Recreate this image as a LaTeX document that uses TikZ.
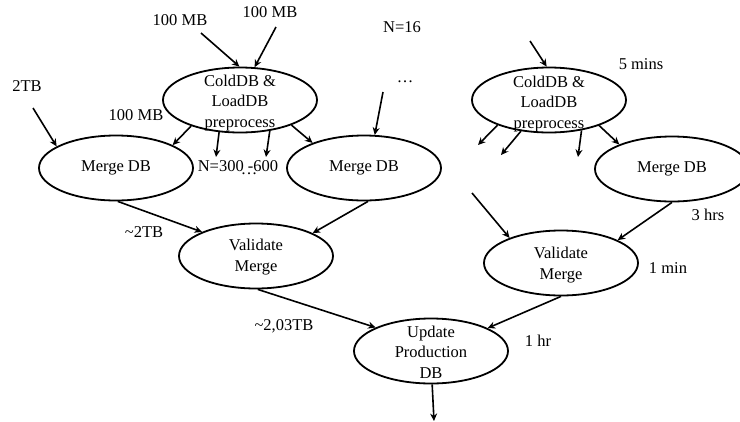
\documentclass[tikz,border=0pt]{standalone}
\usepackage{fontspec}
\setmainfont{Liberation Serif}
\usetikzlibrary{shapes.geometric,arrows.meta}
\begin{document}
\begin{tikzpicture}[x=1pt,y=-1pt,
  proc/.style={ellipse,draw,line width=1.8pt,minimum width=154pt,minimum height=65pt,inner sep=0pt},
  txt/.style={align=center,inner sep=0pt,font=\fontsize{16.5}{20.5}\selectfont},
  lbl/.style={inner sep=0pt,font=\fontsize{16.5}{20}\selectfont},
  arr/.style={line width=1.6pt,-{Stealth[length=7.5pt,width=7pt]}}]
\useasboundingbox (0,0) rectangle (740,421);
% process ellipses
\node[proc] (cdL) at (240,100) {};
\node[txt] (cdLt) at (240,103) {ColdDB \&\\LoadDB\\preprocess};
\node[proc] (cdR) at (549,100) {};
\node[txt] (cdRt) at (549,104) {ColdDB \&\\LoadDB\\preprocess};
\node[proc] (mL) at (116,168) {};
\node[txt] (mLt) at (116,168) {Merge DB};
\node[proc] (mM) at (364,168) {};
\node[txt] (mMt) at (364,168) {Merge DB};
\node[proc] (mR) at (672,169) {};
\node[txt] (mRt) at (672,169) {Merge DB};
\node[proc] (vL) at (256,256) {};
\node[txt] (vLt) at (256,257) {Validate\\Merge};
\node[proc] (vR) at (561,263) {};
\node[txt] (vRt) at (561,265) {Validate\\Merge};
\node[proc] (up) at (431,351) {};
\node[txt] (upt) at (431,352) {Update\\Production\\DB};
% free ends
\coordinate (i1) at (201,33);
\coordinate (i2) at (276,27);
\coordinate (i3) at (33,108);
\coordinate (i4) at (383,92);
\coordinate (i5) at (530,41);
\coordinate (i6) at (472,193);
\coordinate (o1) at (216,157);
\coordinate (o2) at (266,157);
\coordinate (o3) at (478,145);
\coordinate (o4) at (501,155);
\coordinate (o5) at (578,157);
\coordinate (o6) at (434,421);
% connectors
\draw[arr] (i1) -- (cdL.91);
\draw[arr] (i2) -- (cdL.66);
\draw[arr] (i3) -- (mL.160);
\draw[arr] (cdL.208) -- (mL.22);
\draw[arr] (cdL.237) -- (o1);
\draw[arr] (cdL.314) -- (o2);
\draw[arr] (cdL.334) -- (mM.154);
\draw[arr] (i4) -- (mM.72);
\draw[arr] (i5) -- (cdR.94);
\draw[arr] (cdR.206) -- (o3);
\draw[arr] (cdR.228) -- (o4);
\draw[arr] (cdR.317) -- (o5);
\draw[arr] (cdR.333) -- (mR.155);
\draw[arr] (mL.273) -- (vL.156);
\draw[arr] (mM.277) -- (vL.22);
\draw[arr] (i6) -- (vR.154);
\draw[arr] (mR.270) -- (vR.22);
\draw[arr] (vL.273) -- (up.157);
\draw[arr] (vR.270) -- (up.22);
\draw[arr] (up.272) -- (o6);
% labels
\node[lbl] (l1) at (180,20) {100 MB};
\node[lbl] (l2) at (270,12) {100 MB};
\node[lbl] (l3) at (402,27) {N=16};
\node[lbl] (l4) at (27,86) {2TB};
\node[lbl] (l5) at (136,115) {100 MB};
\node[lbl] (l6) at (405,82) {\dots};
\node[lbl] (l7) at (641,64) {5 mins};
\node[lbl] (l8) at (238,166) {N=300 -600};
\node[lbl] (l9) at (249,174) {\dots};
\node[lbl] (l10) at (144,232) {\textasciitilde 2TB};
\node[lbl] (l11) at (708,215) {3 hrs};
\node[lbl] (l12) at (668,268) {1 min};
\node[lbl] (l13) at (284,326) {\textasciitilde 2,03TB};
\node[lbl] (l14) at (538,341) {1 hr};
\end{tikzpicture}
\end{document}
